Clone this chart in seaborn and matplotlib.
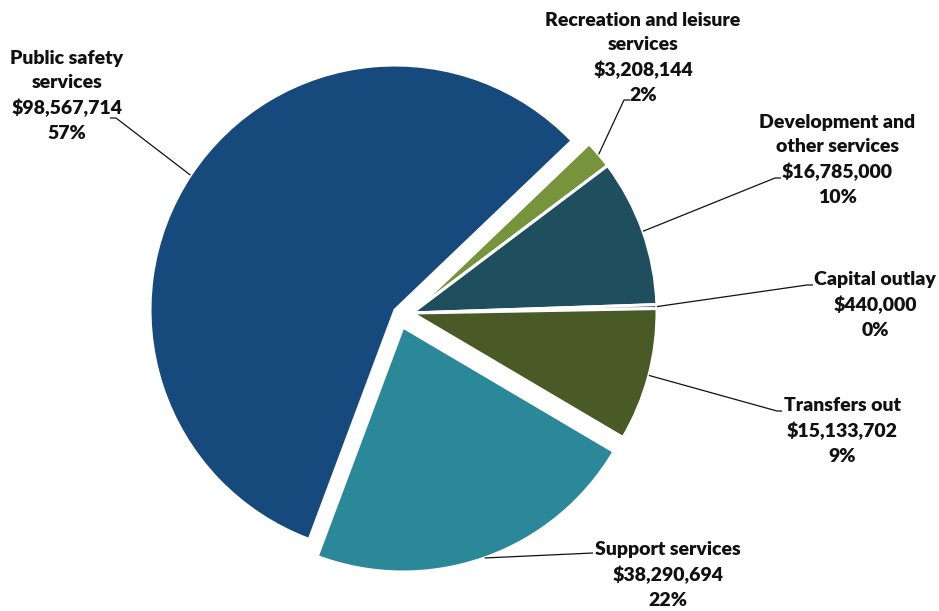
import matplotlib
matplotlib.use("Agg")
import matplotlib.pyplot as plt
import seaborn as sns
import numpy as np

# Expenditure by function
categories = [
    "Public safety\nservices",
    "Recreation and leisure\nservices",
    "Development and\nother services",
    "Capital outlay",
    "Transfers out",
    "Support services",
]
amounts = [98567714, 3208144, 16785000, 440000, 15133702, 38290694]
colors = ["#174A7C", "#77933C", "#1F4F5E", "#17375E", "#4A5A27", "#2B8899"]

sns.set_theme(style="white")
plt.rcParams["font.family"] = ["Lato", "DejaVu Sans"]

W, H = 939, 611
fig = plt.figure(figsize=(W / 100, H / 100), dpi=100)
ax = fig.add_axes([0, 0, 1, 1])


def px(x, y):
    """Convert top-left pixel position to axes data coordinates."""
    return x, H - y


center = px(412, 313)
radius = 245
# slice offsets in pixels (dx right, dy down)
offsets = [(-17, -3), (0, 0), (0, 0), (0, 0), (0, 0), (-9, 14)]

wedges, _ = ax.pie(
    amounts,
    colors=colors,
    startangle=249.5,
    counterclock=False,
    center=center,
    radius=radius,
    wedgeprops=dict(edgecolor="white", linewidth=2.2),
)
for w, (dx, dy) in zip(wedges, offsets):
    cx, cy = w.center
    w.set_center((cx + dx, cy - dy))

ax.set_xlim(0, W)
ax.set_ylim(0, H)
ax.set_aspect("equal")
ax.axis("off")

total = sum(amounts)

# label block centres and leader elbows (pixel positions)
text_pos = [(67, 96), (643, 58), (837, 160), (875, 305), (842, 431), (668, 575)]
leaders = [
    [(116, 118), (110, 118)],
    [(624, 100), (630, 100)],
    [(775, 178), (781, 178)],
    [(807, 285), (813, 285)],
    [(777, 411), (782, 411)],
    [(593, 553)],
]

for w, name, val, tp, ld in zip(wedges, categories, amounts, text_pos, leaders):
    pct = round(100 * val / total)
    label = f"{name}\n${val:,}\n{pct}%"
    tx, ty = px(*tp)
    ax.text(tx, ty, label, ha="center", va="center", fontsize=14,
            fontweight="heavy", color="#111111", linespacing=1.5)
    mid = np.deg2rad((w.theta1 + w.theta2) / 2)
    cx, cy = w.center
    sx = cx + w.r * np.cos(mid)
    sy = cy + w.r * np.sin(mid)
    xs = [sx] + [px(*p)[0] for p in ld]
    ys = [sy] + [px(*p)[1] for p in ld]
    ax.plot(xs, ys, color="#111111", linewidth=0.9, solid_capstyle="butt")

fig.savefig("out.png", dpi=100, facecolor="white")
